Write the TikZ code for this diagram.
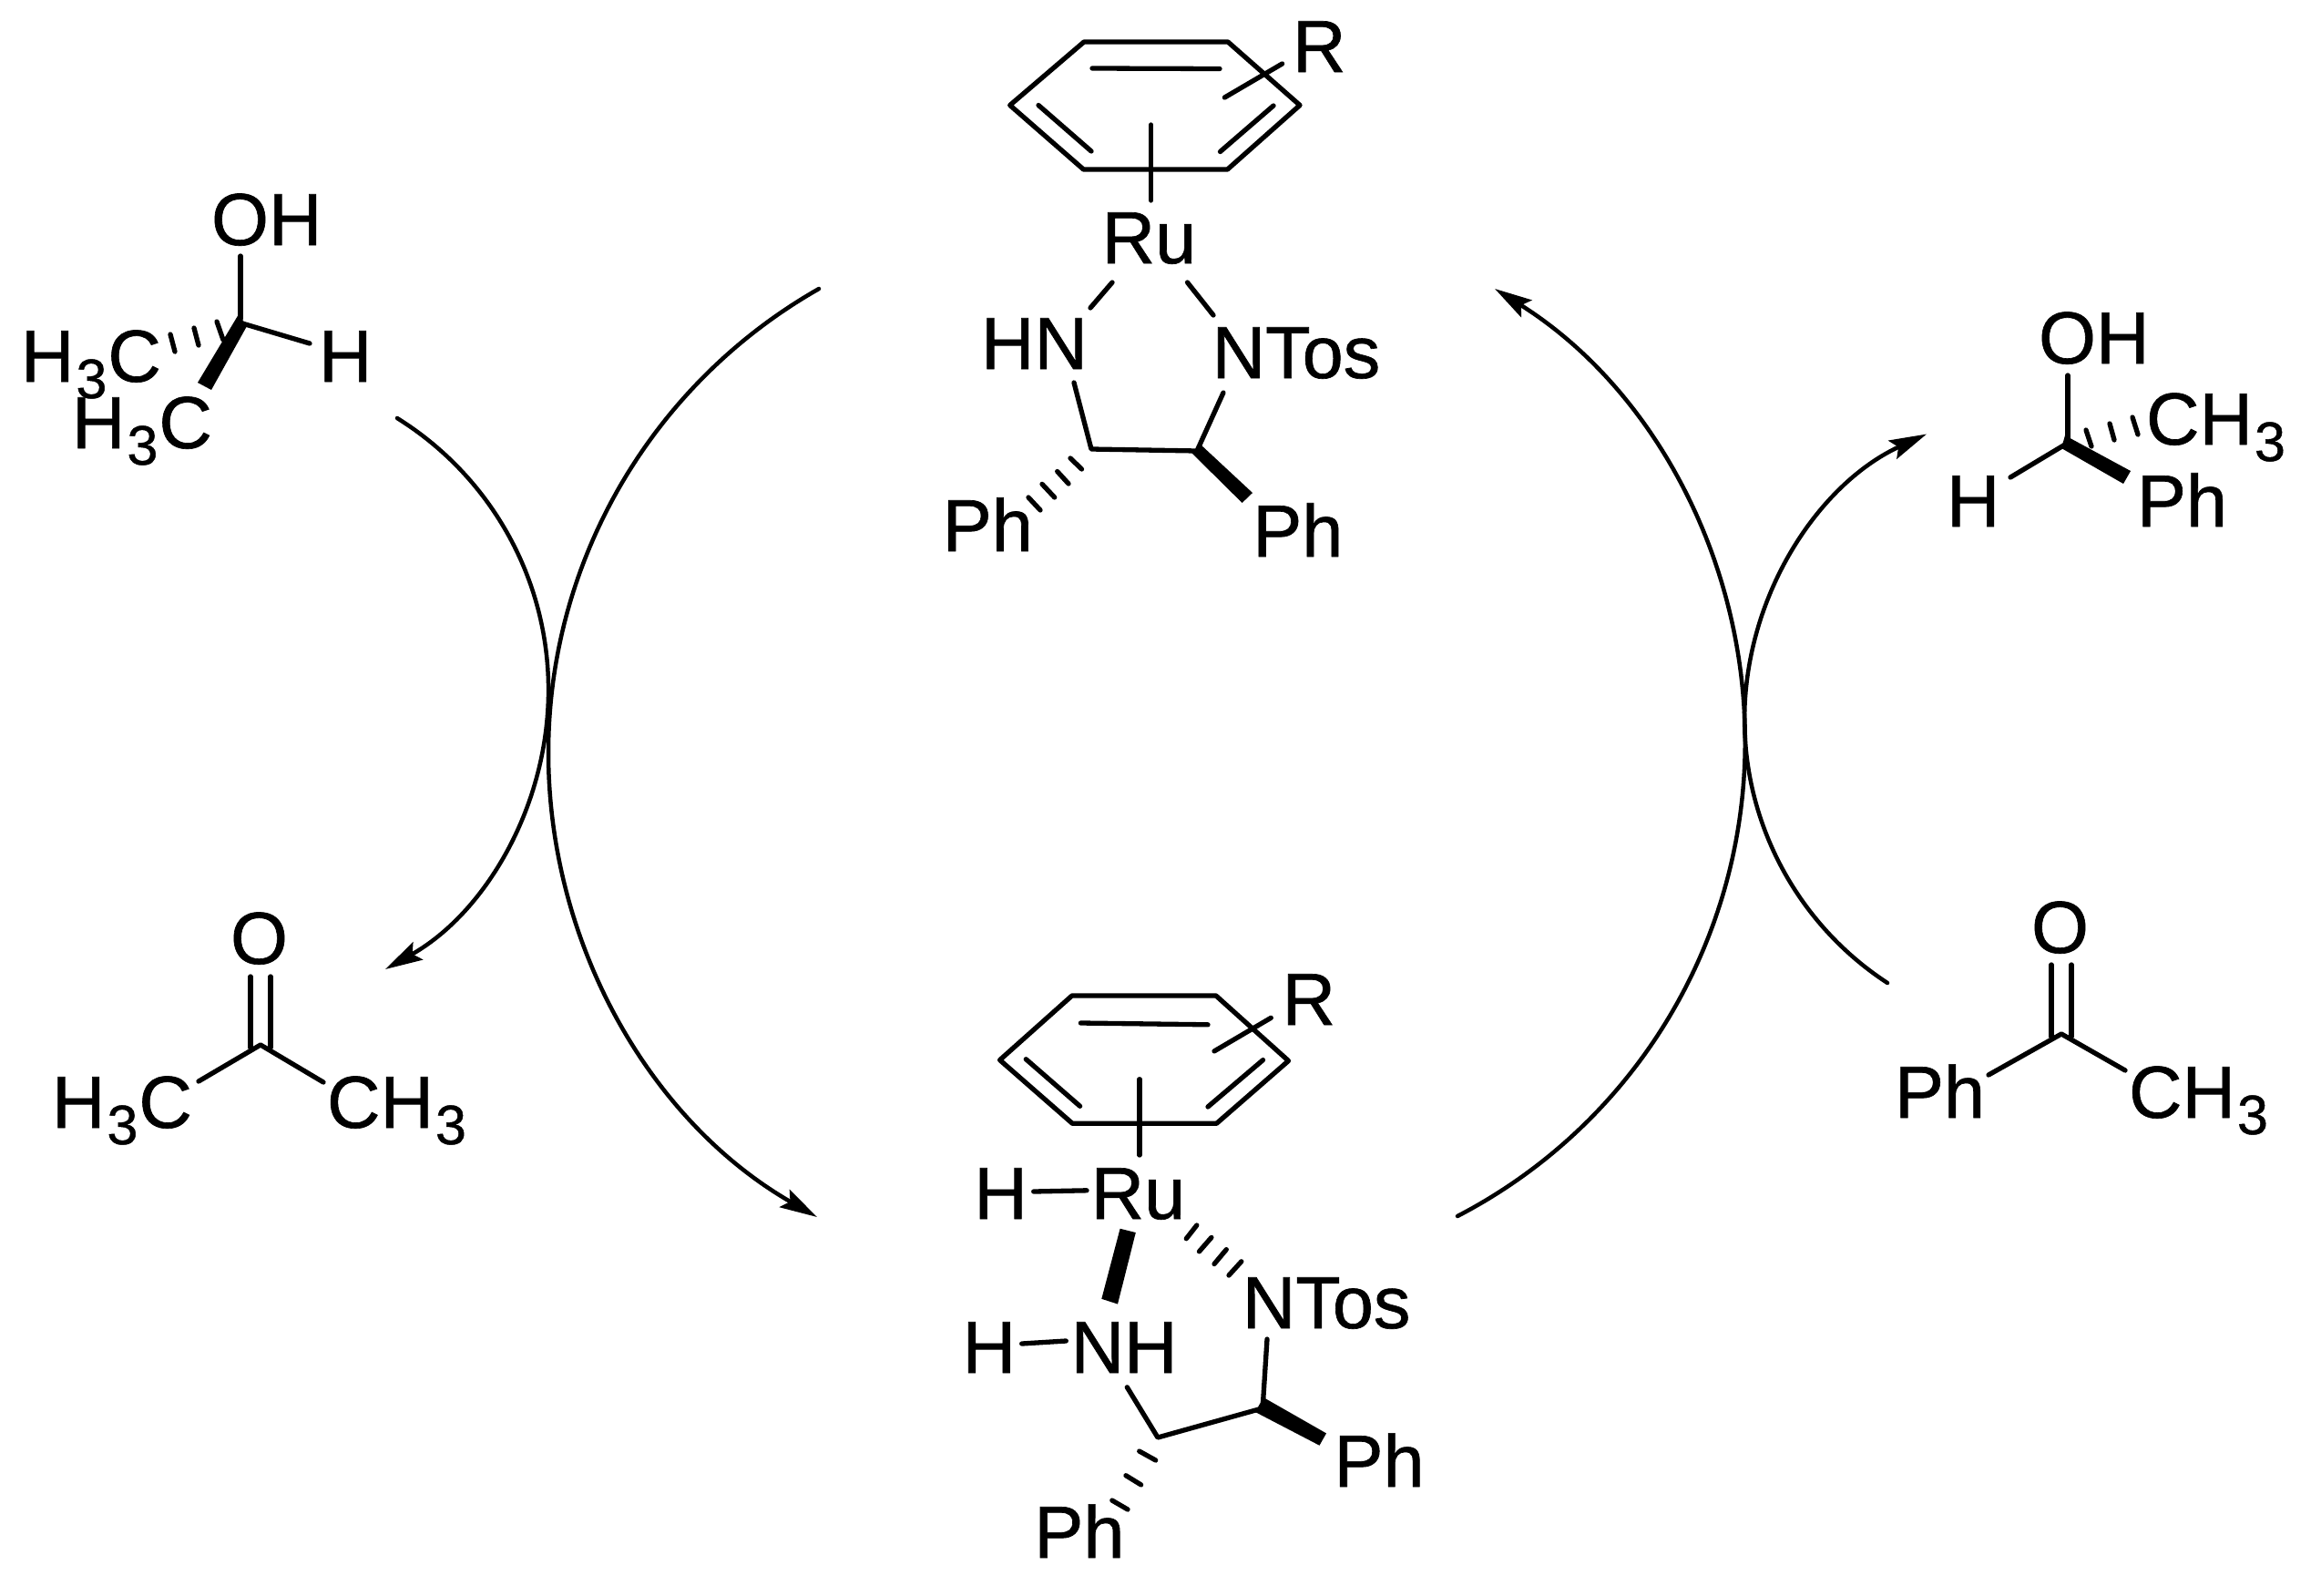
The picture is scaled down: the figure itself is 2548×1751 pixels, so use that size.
\documentclass[tikz,border=0pt]{standalone}
\usepackage{fontspec}
\setmainfont[FakeBold=0.8]{Liberation Sans}
\usetikzlibrary{arrows.meta}
\newcommand{\subthree}{\kern2pt\raisebox{-18pt}{\fontsize{61}{61}\selectfont 3}\kern1pt}
\tikzset{
  lbl/.style={anchor=base west,inner sep=0pt,outer sep=0pt,font=\fontsize{81}{81}\selectfont},
  bond/.style={line width=5.3pt,line cap=round,line join=round},
  hashb/.style={line width=5.3pt,line cap=round},
  wedgeb/.style={fill=black,draw=none},
  curve/.style={line width=4.5pt,line cap=round},
  curvea/.style={line width=4.5pt,line cap=round,-{Stealth[length=41pt,width=22pt,inset=7pt]}}
}
\begin{document}
\begin{tikzpicture}[x=1pt,y=-1pt]
\useasboundingbox (0,0) rectangle (2548,1751);
% ---- cycle arcs
\coordinate (lbS) at (899,317); \coordinate (lbM) at (602,826); \coordinate (lbE) at (897,1336);
\draw[curvea] (lbS) .. controls (716,421) and (602,615.5) .. (lbM) .. controls (602,1036.5) and (714,1231) .. (lbE);
\coordinate (rbS) at (1600,1335); \coordinate (rbM) at (1915.3,837.8); \coordinate (rbE) at (1641,317);
\draw[curvea] (rbS) .. controls (1787,1238) and (1906.9,1048.3) .. (rbM) .. controls (1923.7,627.3) and (1819.5,429) .. (rbE);
\coordinate (lsS) at (436,459); \coordinate (lsM) at (602,765); \coordinate (lsE) at (423,1064);
\draw[curvea] (lsS) .. controls (541.4,524.6) and (604.7,640.7) .. (lsM) .. controls (599.3,889.3) and (531.4,1003) .. (lsE);
\coordinate (rsS) at (2072,1079); \coordinate (rsM) at (1916,765); \coordinate (rsE) at (2115,476.5);
\draw[curvea] (rsS) .. controls (1967,1010.5) and (1907,890) .. (rsM) .. controls (1925,640) and (2001,529) .. (rsE);

% ---- top complex
\draw[bond] (1108.7,115.5) -- (1190,46) -- (1348,46) -- (1427,115.5) -- (1347.5,186) -- (1189.5,186) -- cycle;
\draw[bond] (1199,75) -- (1339,75.5);
\draw[bond] (1140,115.5) -- (1198,166);
\draw[bond] (1398,116) -- (1339.5,166.5);
\draw[bond] (1344.4,107) -- (1407.6,70);
\draw[bond] (1263.7,137) -- (1263.7,220);
\node[lbl] (tR) at (1419,79) {R};
\node[lbl] (tRu) at (1209.6,289) {Ru};
\node[lbl] (tHN) at (1077,405) {HN};
\node[lbl] (tNTos) at (1330.6,415) {NTos};
\node[lbl] (tPhL) at (1034.8,605) {Ph};
\node[lbl] (tPhR) at (1375.3,611) {Ph};
\draw[bond] (1221,310) -- (1197,338);
\draw[bond] (1303.5,310) -- (1332,346);
\draw[bond] (1179,420) -- (1198,493) -- (1314,495) -- (1343,431);
\fill[wedgeb] (1318,488) -- (1375,541) -- (1363.6,552) -- (1308,497) -- cycle;
\draw[hashb] (1187.5,515) -- (1175,503);
\draw[hashb] (1173,531) -- (1160.7,517.5);
\draw[hashb] (1157.7,546) -- (1144,531.4);
\draw[hashb] (1142,560) -- (1129,546);

% ---- bottom complex
\draw[bond] (1097.6,1163.6) -- (1176.8,1093) -- (1334.9,1093) -- (1414.5,1164.5) -- (1335.6,1233.2) -- (1177.2,1233.2) -- cycle;
\draw[bond] (1186.4,1123) -- (1326,1124.8);
\draw[bond] (1126.3,1162.7) -- (1185.6,1214.3);
\draw[bond] (1386.5,1163.6) -- (1326,1215);
\draw[bond] (1333,1153.9) -- (1395.3,1117.3);
\draw[bond] (1251,1184.7) -- (1251,1268);
\node[lbl] (bR) at (1407.6,1125) {R};
\node[lbl] (bRu) at (1197.6,1338) {Ru};
\node[lbl] (bH) at (1069.4,1338) {H};
\node[lbl] (bNTos) at (1363.8,1458) {NTos};
\node[lbl] (bHb) at (1056.6,1507) {H};
\node[lbl] (bNH) at (1175.6,1507) {NH};
\node[lbl] (bPhL) at (1135.4,1710) {Ph};
\node[lbl] (bPhR) at (1464.5,1632) {Ph};
\draw[bond] (1134.7,1308) -- (1193,1306.8);
\draw[bond] (1121.7,1475) -- (1170.3,1472);
\fill[wedgeb] (1229.6,1348.7) -- (1246.8,1353) -- (1227,1431.5) -- (1209.3,1425.8) -- cycle;
\draw[hashb] (1302.3,1359.7) -- (1313.8,1345);
\draw[hashb] (1316.5,1373.8) -- (1329.9,1358.4);
\draw[hashb] (1333,1387.5) -- (1346.3,1371.6);
\draw[hashb] (1349,1400) -- (1362.8,1384.8);
\draw[bond] (1237.3,1522.8) -- (1271,1578) -- (1382,1547);
\draw[bond] (1391,1470) -- (1386.5,1540);
\fill[wedgeb] (1387,1534) -- (1456,1573.4) -- (1448.5,1586.7) -- (1378,1550) -- cycle;
\draw[hashb] (1268.7,1603) -- (1250.7,1593);
\draw[hashb] (1252.6,1629.9) -- (1236,1619.7);
\draw[hashb] (1238,1657) -- (1220.8,1647);

% ---- isopropanol
\node[lbl] (aOH) at (232,269) {OH};
\node[lbl] (aH) at (350,419) {H};
\node[lbl] (aMe1) at (23,419) {H\subthree C};
\node[lbl] (aMe2) at (79,492) {H\subthree C};
\draw[bond] (264,281) -- (264,350);
\draw[bond] (266,355) -- (340,377);
\fill[wedgeb] (262,345) -- (271,358) -- (232,428) -- (217,420) -- cycle;
\draw[hashb] (238,353) -- (245,373);
\draw[hashb] (213,360) -- (218,379);
\draw[hashb] (187,367) -- (192,386);

% ---- phenylethanol
\node[lbl] (pOH) at (2238,399) {OH};
\node[lbl] (pMe) at (2356,488) {CH\subthree};
\node[lbl] (pH) at (2137,578) {H};
\node[lbl] (pPh) at (2346,578) {Ph};
\draw[bond] (2270,412) -- (2270,486);
\draw[bond] (2207,524) -- (2267,488);
\fill[wedgeb] (2267,478) -- (2339,517) -- (2331,531) -- (2263,492) -- cycle;
\draw[hashb] (2290,472) -- (2296,490);
\draw[hashb] (2316,465) -- (2321,483);
\draw[hashb] (2341,458) -- (2347,477);

% ---- acetone
\node[lbl] (kO) at (253,1058) {O};
\node[lbl] (kL) at (57,1238) {H\subthree C};
\node[lbl] (kR) at (359,1238) {CH\subthree};
\draw[bond] (275,1072) -- (275,1150);
\draw[bond] (297,1072) -- (297,1150);
\draw[bond] (218,1187) -- (286,1147) -- (355,1188);

% ---- acetophenone
\node[lbl] (fO) at (2230,1046) {O};
\node[lbl] (fL) at (2080,1227) {Ph};
\node[lbl] (fR) at (2337,1227) {CH\subthree};
\draw[bond] (2252,1059) -- (2252,1138);
\draw[bond] (2274,1059) -- (2274,1138);
\draw[bond] (2183,1180) -- (2263,1135) -- (2333,1175);
\end{tikzpicture}
\end{document}
